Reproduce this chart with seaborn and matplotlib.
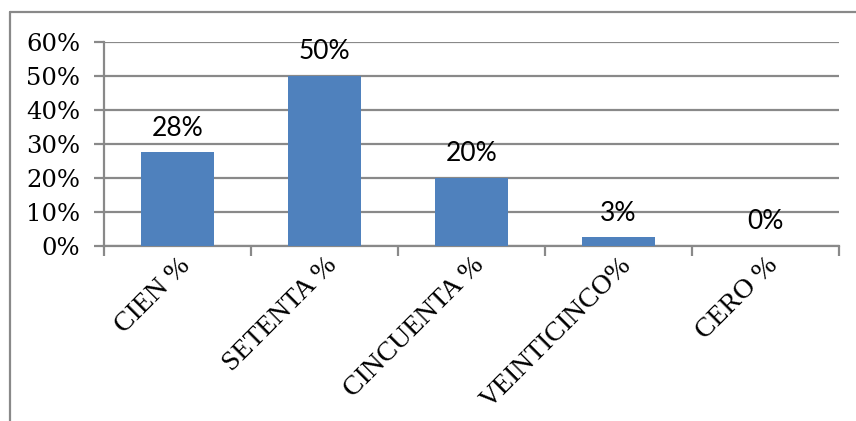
import matplotlib
matplotlib.use("Agg")
import matplotlib.pyplot as plt
import seaborn as sns
import numpy as np
from matplotlib.lines import Line2D
from matplotlib.ticker import FixedLocator, PercentFormatter

categories = ["CIEN %", "SETENTA %", "CINCUENTA %", "VEINTICINCO%", "CERO %"]
values = [0.275, 0.50, 0.20, 0.025, 0.0]
y_ticks = [0.0, 0.1, 0.2, 0.3, 0.4, 0.5, 0.6]

BAR = "#4F81BD"
GRID = "#898989"
SERIF = ["Liberation Serif", "DejaVu Serif"]
TICK_SERIF = ["DejaVu Serif"]
SANS = ["Lato", "DejaVu Sans"]

sns.set_theme(style="white")
plt.rcParams["font.family"] = SERIF

fig = plt.figure(figsize=(8.56, 4.21), dpi=100)
ax = fig.add_axes([104 / 856, 1 - 246 / 421, (839 - 104) / 856, (246 - 42) / 421])

sns.barplot(x=categories, y=values, color=BAR, width=0.5, saturation=1,
            linewidth=0, ax=ax, zorder=3)

ax.set_xlim(-0.5, len(categories) - 0.5)
ax.set_ylim(0, 0.6)
ax.yaxis.set_major_locator(FixedLocator(y_ticks))
ax.yaxis.set_major_formatter(PercentFormatter(1.0, decimals=0))
ax.grid(axis="y", color=GRID, linewidth=1.6, zorder=0)
ax.set_axisbelow(True)

for side in ("top", "right"):
    ax.spines[side].set_visible(False)
for side in ("left", "bottom"):
    ax.spines[side].set_color(GRID)
    ax.spines[side].set_linewidth(1.6)

ax.tick_params(axis="y", left=True, length=7, width=1.6, color=GRID,
               labelsize=17.5, pad=10, labelcolor="black")
for lbl in ax.get_yticklabels():
    lbl.set_family(TICK_SERIF)
ax.set_xticks(np.arange(-0.5, len(categories)), minor=True)
ax.tick_params(axis="x", which="minor", bottom=True, length=7, width=1.6,
               color=GRID)
ax.tick_params(axis="x", which="major", bottom=False, length=0, pad=5)
ax.set_xticklabels(categories, rotation=45, ha="right", va="top",
                   rotation_mode="anchor", fontsize=20, color="black")
ax.set_xlabel("")
ax.set_ylabel("")

# value labels above each bar (rounded half up)
for i, v in enumerate(values):
    pct = int(v * 100 + 0.5)
    ax.annotate(f"{pct}%", (i, v), xytext=(0, 24), textcoords="offset pixels",
                ha="center", va="center", fontsize=19, family=SANS,
                color="black", zorder=4)

# chart frame
fig.add_artist(Line2D([10 / 856, 1.0], [1 - 12 / 421, 1 - 12 / 421],
                      transform=fig.transFigure, color=GRID, linewidth=1.6))
fig.add_artist(Line2D([10 / 856, 10 / 856], [0.0, 1 - 12 / 421],
                      transform=fig.transFigure, color=GRID, linewidth=1.6))

fig.savefig("out.png", dpi=100)
